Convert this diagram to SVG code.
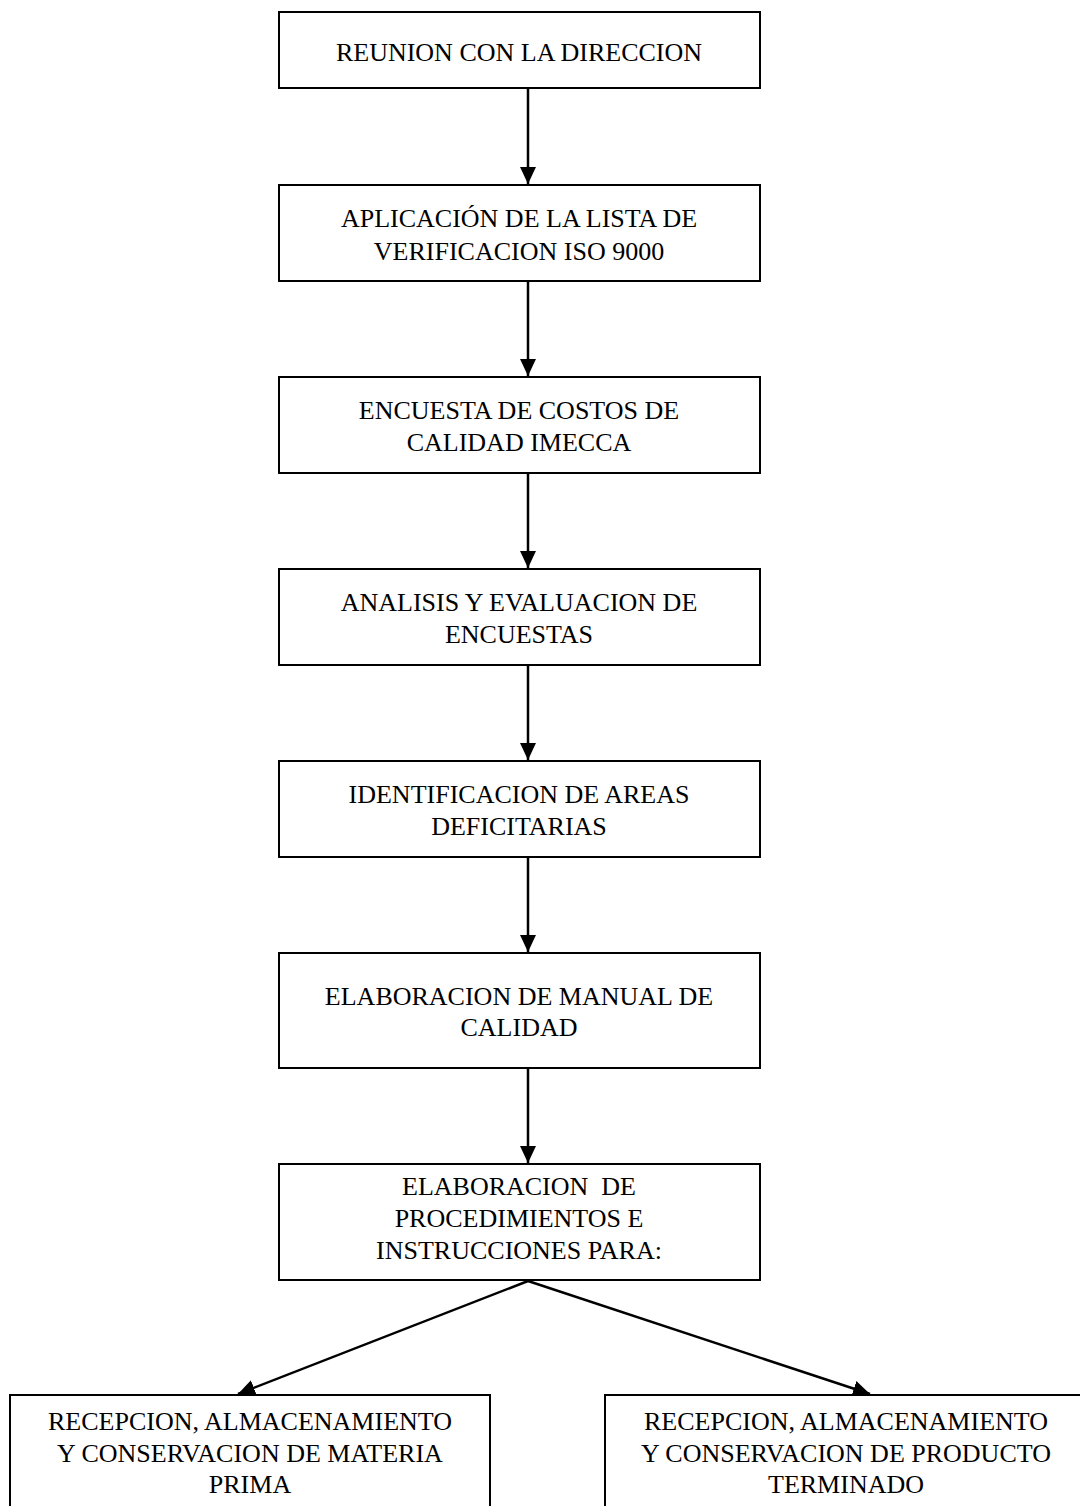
<svg xmlns="http://www.w3.org/2000/svg" width="1080" height="1506" viewBox="0 0 1080 1506">
<style>
.box{fill:#fff;stroke:#000;stroke-width:2}
.t{font-family:"Liberation Serif","Times New Roman",serif;font-size:26px;fill:#000;text-anchor:middle;white-space:pre}
.c{stroke:#000;stroke-width:2.5;fill:none}
</style>
<defs>
<marker id="ah" markerUnits="userSpaceOnUse" markerWidth="18" markerHeight="18" viewBox="0 0 18 18" refX="17" refY="9" orient="auto">
<path d="M0,1 L17,9 L0,17 Z" fill="#000"/>
</marker>
</defs>
<rect width="1080" height="1506" fill="#fff"/>
<g id="connectors">
<line class="c" x1="528" y1="89" x2="528" y2="184" marker-end="url(#ah)"/>
<line class="c" x1="528" y1="281" x2="528" y2="376" marker-end="url(#ah)"/>
<line class="c" x1="528" y1="473" x2="528" y2="568" marker-end="url(#ah)"/>
<line class="c" x1="528" y1="665" x2="528" y2="760" marker-end="url(#ah)"/>
<line class="c" x1="528" y1="857" x2="528" y2="952" marker-end="url(#ah)"/>
<line class="c" x1="528" y1="1068" x2="528" y2="1163" marker-end="url(#ah)"/>
<line class="c" x1="528" y1="1281" x2="238" y2="1394" marker-end="url(#ah)"/>
<line class="c" x1="528" y1="1281" x2="870" y2="1394" marker-end="url(#ah)"/>
</g>
<g id="n1"><rect class="box" x="279" y="12" width="481" height="76"/><text class="t" x="519" y="61">REUNION CON LA DIRECCION</text></g>
<g id="n2"><rect class="box" x="279" y="185" width="481" height="96"/><text class="t" x="519" y="227">APLICACIÓN DE LA LISTA DE</text><text class="t" x="519" y="260">VERIFICACION ISO 9000</text></g>
<g id="n3"><rect class="box" x="279" y="377" width="481" height="96"/><text class="t" x="519" y="419">ENCUESTA DE COSTOS DE</text><text class="t" x="519" y="451">CALIDAD IMECCA</text></g>
<g id="n4"><rect class="box" x="279" y="569" width="481" height="96"/><text class="t" x="519" y="611">ANALISIS Y EVALUACION DE</text><text class="t" x="519" y="643">ENCUESTAS</text></g>
<g id="n5"><rect class="box" x="279" y="761" width="481" height="96"/><text class="t" x="519" y="803">IDENTIFICACION DE AREAS</text><text class="t" x="519" y="835">DEFICITARIAS</text></g>
<g id="n6"><rect class="box" x="279" y="953" width="481" height="115"/><text class="t" x="519" y="1005">ELABORACION DE MANUAL DE</text><text class="t" x="519" y="1036">CALIDAD</text></g>
<g id="n7"><rect class="box" x="279" y="1164" width="481" height="116"/><text class="t" x="519" y="1195">ELABORACION  DE</text><text class="t" x="519" y="1227">PROCEDIMIENTOS E</text><text class="t" x="519" y="1259">INSTRUCCIONES PARA:</text></g>
<g id="n8"><rect class="box" x="10" y="1395" width="480" height="130"/><text class="t" x="250" y="1430">RECEPCION, ALMACENAMIENTO</text><text class="t" x="250" y="1462">Y CONSERVACION DE MATERIA</text><text class="t" x="250" y="1493">PRIMA</text></g>
<g id="n9"><rect class="box" x="605" y="1395" width="490" height="130"/><text class="t" x="846" y="1430">RECEPCION, ALMACENAMIENTO</text><text class="t" x="846" y="1462">Y CONSERVACION DE PRODUCTO</text><text class="t" x="846" y="1493">TERMINADO</text></g>
</svg>
